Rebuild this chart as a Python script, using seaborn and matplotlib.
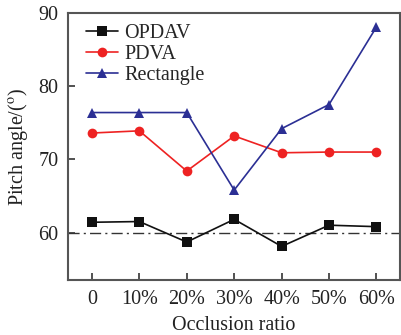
import numpy as np
import pandas as pd
import matplotlib
matplotlib.use("Agg")
import matplotlib.pyplot as plt
import seaborn as sns

categories = ["0", "10%", "20%", "30%", "40%", "50%", "60%"]
opdav = [61.4, 61.5, 58.7, 61.8, 58.1, 61.0, 60.8]
pdva = [73.6, 73.9, 68.4, 73.2, 70.9, 71.0, 71.0]
rectangle = [76.4, 76.4, 76.4, 65.8, 74.2, 77.5, 88.1]
series_names = ["OPDAV", "PDVA", "Rectangle"]

sns.set_style("ticks")
plt.rcParams["font.family"] = ["Liberation Serif", "DejaVu Serif"]
plt.rcParams["mathtext.fontset"] = "stix"

rows = []
for name, vals in zip(series_names, [opdav, pdva, rectangle]):
    for i, v in enumerate(vals):
        rows.append({"pos": i, "value": v, "series": name})
df = pd.DataFrame(rows)

fig = plt.figure(figsize=(4.01, 3.35), dpi=100)
ax = fig.add_axes([0.17, 0.164, 0.828, 0.797])

palette = {"OPDAV": "#111111", "PDVA": "#ee2222", "Rectangle": "#2b2f94"}
markers = {"OPDAV": "s", "PDVA": "o", "Rectangle": "^"}
sns.lineplot(data=df, x="pos", y="value", hue="series", style="series",
             palette=palette, markers=markers, dashes=False, markersize=7,
             linewidth=1.2, markeredgewidth=0, ax=ax)

ax.axhline(60, color="#333333", linestyle=(0, (8, 3, 1.5, 3)), linewidth=1.0, zorder=0)

ax.set_xlim(-0.5, 6.5)
ax.set_ylim(53.5, 90)
ax.set_xticks(range(len(categories)))
ax.set_xticklabels(categories)
ax.set_yticks([60, 70, 80, 90])
ax.tick_params(direction="in", length=5, width=1.2, labelsize=14.5, colors="#333333",
               labelcolor="#222222", pad=7)
for s in ax.spines.values():
    s.set_color("#555555")
    s.set_linewidth(1.5)

ax.set_xlabel("Occlusion ratio", fontsize=14.5, labelpad=5, color="#222222")
ax.set_ylabel("Pitch angle/($^{\\mathrm{o}}$)", fontsize=14.5, labelpad=6, color="#222222")

leg = ax.legend(loc="upper left", frameon=False, fontsize=14.5, handlelength=1.6,
                handletextpad=0.3, labelspacing=0.1, borderaxespad=0.15,
                bbox_to_anchor=(0.02, 1.0))

fig.savefig("out.png", dpi=100)
